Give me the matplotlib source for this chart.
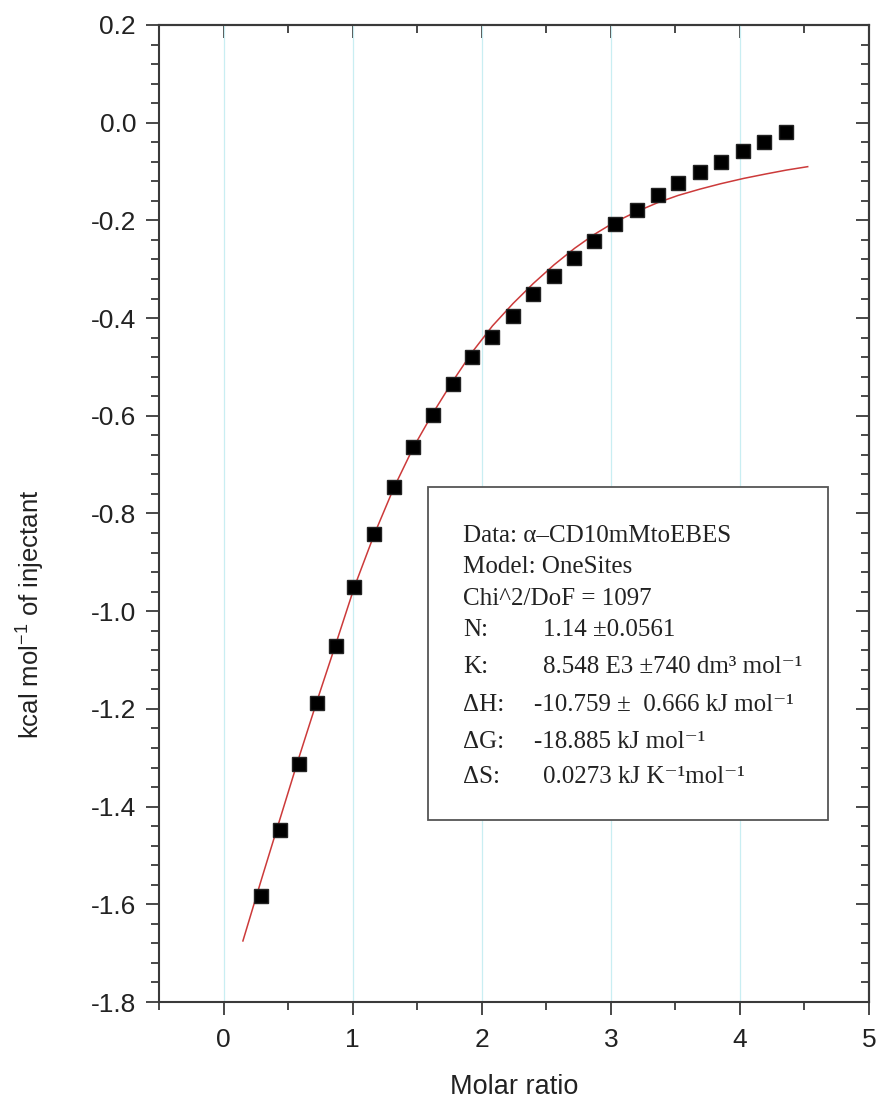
import matplotlib

matplotlib.use("Agg")
import matplotlib.pyplot as plt
from matplotlib.patches import Rectangle
from matplotlib.ticker import MultipleLocator, FormatStrFormatter

# ITC titration: integrated heats per injection
molar_ratio = [0.289, 0.434, 0.581, 0.726, 0.871, 1.014, 1.167, 1.320, 1.470,
               1.623, 1.776, 1.928, 2.083, 2.243, 2.398, 2.558, 2.713, 2.871,
               3.033, 3.199, 3.362, 3.522, 3.690, 3.853, 4.021, 4.188, 4.359]
heat = [-1.583, -1.447, -1.313, -1.187, -1.071, -0.951, -0.842, -0.745, -0.663,
        -0.598, -0.535, -0.480, -0.438, -0.396, -0.351, -0.313, -0.276, -0.242,
        -0.208, -0.178, -0.148, -0.124, -0.101, -0.080, -0.057, -0.039, -0.020]

# one-site fit curve
fit_ratio = [0.15, 0.289, 0.434, 0.581, 0.726, 0.871, 1.014, 1.167, 1.320, 1.470,
             1.623, 1.776, 1.928, 2.083, 2.243, 2.40, 2.56, 2.72, 2.87, 3.02,
             3.20, 3.36, 3.52, 3.69, 3.85, 4.03, 4.20, 4.36, 4.525]
fit_heat = [-1.675, -1.553, -1.428, -1.302, -1.182, -1.066, -0.950, -0.843, -0.747,
            -0.665, -0.594, -0.529, -0.469, -0.416, -0.370, -0.329, -0.291, -0.257,
            -0.229, -0.205, -0.182, -0.164, -0.149, -0.136, -0.125, -0.114, -0.105,
            -0.097, -0.090]

box_lines = ["Data: \u03b1\u2013CD10mMtoEBES", "Model: OneSites", "Chi^2/DoF = 1097"]
param_names = ["N:", "K:", "\u0394H:", "\u0394G:", "\u0394S:"]
param_values = ["1.14 \u00b10.0561",
                "8.548 E3 \u00b1740 dm\u00b3 mol\u207b\u00b9",
                "-10.759 \u00b1  0.666 kJ mol\u207b\u00b9",
                "-18.885 kJ mol\u207b\u00b9",
                "0.0273 kJ K\u207b\u00b9mol\u207b\u00b9"]

W, H = 879, 1102
plt.rcParams.update({
    "font.family": ["Liberation Sans", "DejaVu Sans"],
    "axes.unicode_minus": False,
    "mathtext.fontset": "custom",
    "mathtext.rm": "Liberation Sans",
    "mathtext.it": "Liberation Sans:italic",
    "mathtext.bf": "Liberation Sans:bold",
})

fig = plt.figure(figsize=(W / 100, H / 100), dpi=100)
ax = fig.add_axes([159 / W, 1 - 1002 / H, 710 / W, 977 / H])

ax.grid(True, axis="x", which="major", color="#c9eef2", lw=0.9)
ax.plot(fit_ratio, fit_heat, color="#cc3a3a", lw=1.1, zorder=3)
ax.plot(molar_ratio, heat, "s", color="black", mec="#222222", ms=9.5, zorder=4)

ax.set_xlim(-0.5, 5)
ax.set_ylim(-1.8, 0.2)
ax.xaxis.set_major_locator(MultipleLocator(1))
ax.xaxis.set_minor_locator(MultipleLocator(0.5))
ax.yaxis.set_major_locator(MultipleLocator(0.2))
ax.yaxis.set_minor_locator(MultipleLocator(0.04))
ax.yaxis.set_major_formatter(FormatStrFormatter("%.1f"))

spine_col = "#3a3a3a"
for s in ax.spines.values():
    s.set_linewidth(1.5)
    s.set_color(spine_col)
ax.tick_params(which="both", direction="out", color=spine_col, width=1.3,
               labelsize=19, labelcolor="#222222")
ax.tick_params(which="major", length=9.5)
ax.tick_params(which="minor", length=5.5)
ax.tick_params(axis="x", pad=9)
ax.tick_params(axis="y", pad=7)

# inward ticks on the top and right frame
top = ax.secondary_xaxis("top")
right = ax.secondary_yaxis("right")
top.xaxis.set_major_locator(MultipleLocator(1))
top.xaxis.set_minor_locator(MultipleLocator(0.5))
right.yaxis.set_major_locator(MultipleLocator(0.2))
right.yaxis.set_minor_locator(MultipleLocator(0.04))
for sec in (top, right):
    sec.tick_params(which="both", direction="in", color=spine_col, width=1.3,
                    labeltop=False, labelright=False)
    sec.tick_params(which="major", length=9.5)
    sec.tick_params(which="minor", length=5.5)
    for s in sec.spines.values():
        s.set_linewidth(1.5)
        s.set_color(spine_col)

ax.set_xlabel("Molar ratio", fontsize=19.5, color="#222222")
ax.xaxis.set_label_coords(0.5, -0.074)
ax.set_ylabel(r"kcal mol$^{-1}$ of injectant", fontsize=18.5, color="#222222")
ax.yaxis.set_label_coords(-0.158, 0.397)

# parameter box
fig.add_artist(Rectangle((428 / W, 1 - 820 / H), 400 / W, 333 / H,
                         transform=fig.transFigure, facecolor="white",
                         edgecolor="#555555", lw=1.3, zorder=5))

serif = ["Liberation Serif", "DejaVu Serif"]
baselines = [541.5, 573, 605, 636.5, 673, 711, 747.5, 783]
for line, yb in zip(box_lines, baselines[:3]):
    fig.text(463 / W, 1 - yb / H, line, family=serif, fontsize=18,
             color="#222222", va="baseline", zorder=6)
for name, val, yb in zip(param_names, param_values, baselines[3:]):
    fig.text(463 / W, 1 - yb / H, name, family=serif, fontsize=18,
             color="#222222", va="baseline", zorder=6)
    vx = 534 if val.startswith("-") else 543
    fig.text(vx / W, 1 - yb / H, val, family=serif, fontsize=18,
             color="#222222", va="baseline", zorder=6)

fig.savefig("out.png", dpi=100)
